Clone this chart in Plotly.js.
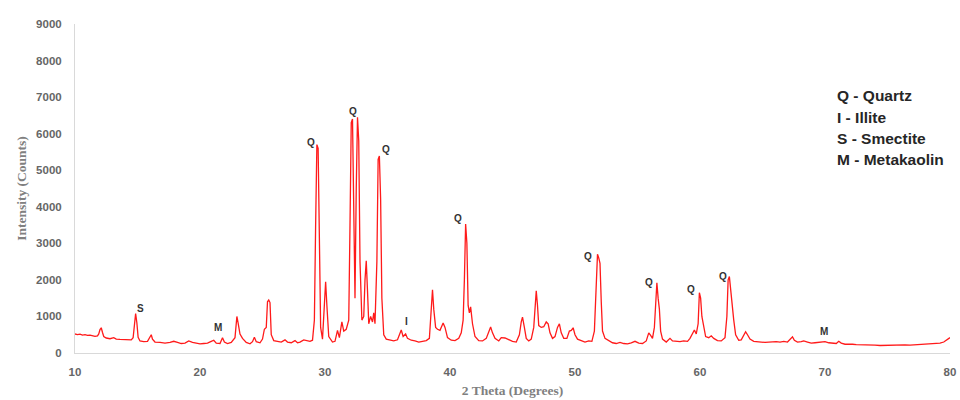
<!DOCTYPE html>
<html>
<head>
<meta charset="utf-8">
<script src="https://cdn.plot.ly/plotly-3.0.1.min.js"></script>
<style>
  html, body { margin: 0; padding: 0; background: #ffffff; }
  #chart { width: 960px; height: 400px; }
</style>
</head>
<body>
<div id="chart"></div>
<script>
// XRD scan: diffraction angle 2θ (degrees) and measured intensity (counts)
const twoTheta = [
  10.0, 10.2, 10.4, 10.6, 10.8, 11.0, 11.2, 11.4, 11.6, 11.8, 11.9, 12.0, 12.1, 12.2, 12.3, 12.5, 12.8, 13.1, 13.3, 13.6, 13.9, 14.2, 14.5,
  14.65, 14.75, 14.85, 14.95, 15.05, 15.2, 15.5, 15.8, 16.0, 16.1, 16.2, 16.4, 16.8, 17.2, 17.6, 17.9, 18.2, 18.5, 18.8, 19.1, 19.4, 19.7,
  20.0, 20.3, 20.6, 20.9, 21.1, 21.3, 21.6, 21.8, 21.95, 22.2, 22.5, 22.8, 22.95, 23.05, 23.2, 23.4, 23.7, 24.0, 24.2, 24.35, 24.5, 24.8,
  25.0, 25.15, 25.3, 25.4, 25.5, 25.6, 25.7, 25.9, 26.2, 26.5, 26.8, 27.0, 27.3, 27.6, 27.8, 28.0, 28.3, 28.6, 28.8, 29.0,
  29.15, 29.25, 29.35, 29.45, 29.55, 29.65, 29.8, 29.95, 30.05, 30.15, 30.3, 30.6, 30.8, 31.0, 31.15, 31.35, 31.5, 31.7, 31.9,
  32.0, 32.1, 32.2, 32.3, 32.4, 32.5, 32.6, 32.7, 32.8, 32.95, 33.1, 33.2, 33.3, 33.4, 33.5, 33.65, 33.8, 33.9, 34.0,
  34.15, 34.25, 34.35, 34.45, 34.55, 34.7, 34.9, 35.2, 35.5, 35.8, 36.0, 36.1, 36.25, 36.45, 36.6, 36.9, 37.2, 37.5, 37.8, 38.1,
  38.35, 38.5, 38.6, 38.7, 38.85, 39.0, 39.2, 39.45, 39.6, 39.8, 40.1, 40.4, 40.7, 40.9, 41.05, 41.15, 41.25, 41.35, 41.45, 41.55, 41.65, 41.8,
  42.0, 42.3, 42.6, 42.9, 43.1, 43.25, 43.4, 43.6, 43.9, 44.1, 44.4, 44.7, 45.0, 45.3, 45.55, 45.7, 45.8, 45.95, 46.1, 46.3, 46.5,
  46.7, 46.8, 46.9, 47.0, 47.1, 47.3, 47.5, 47.7, 47.85, 48.0, 48.2, 48.4, 48.6, 48.75, 48.9, 49.1, 49.35, 49.55, 49.7, 49.85, 50.0,
  50.2, 50.5, 50.8, 51.1, 51.35, 51.55, 51.7, 51.8, 51.9, 52.0, 52.1, 52.2, 52.4, 52.7, 53.0, 53.3, 53.6, 53.9, 54.2, 54.5, 54.8, 55.1,
  55.4, 55.7, 55.9, 56.05, 56.2, 56.35, 56.45, 56.55, 56.65, 56.75, 56.85, 57.0, 57.3, 57.6, 57.8, 58.1, 58.4, 58.7, 59.0, 59.2, 59.4,
  59.55, 59.7, 59.85, 59.95, 60.05, 60.15, 60.3, 60.45, 60.7, 60.9, 61.1, 61.4, 61.7, 62.0, 62.15, 62.25, 62.35, 62.45, 62.55, 62.7,
  62.85, 63.1, 63.3, 63.5, 63.65, 63.8, 64.0, 64.3, 64.6, 64.9, 65.2, 65.5, 65.8, 66.1, 66.4, 66.7, 67.0, 67.25, 67.4, 67.55, 67.8,
  68.1, 68.3, 68.6, 68.9, 69.2, 69.5, 69.8, 70.0, 70.3, 70.6, 70.9, 71.1, 71.3, 71.6, 71.9, 72.2, 72.5, 72.8, 73.2, 73.6, 74.0, 74.4,
  74.8, 75.2, 75.6, 76.0, 76.4, 76.8, 77.2, 77.6, 78.0, 78.4, 78.8, 79.2, 79.5, 79.8, 80.0
];
const counts = [
  520, 505, 515, 490, 500, 480, 490, 470, 455, 470, 520, 640, 690, 560, 450, 410, 390, 420, 380, 370, 360, 350, 360,
  420, 800, 1080, 820, 430, 330, 310, 320, 420, 500, 380, 300, 290, 270, 290, 320, 290, 260, 270, 330, 290, 260,
  250, 260, 270, 320, 350, 270, 260, 420, 300, 260, 290, 420, 1000, 820, 520, 400, 290, 250, 310, 430, 310, 280,
  380, 650, 700, 1400, 1450, 1380, 500, 340, 320, 300, 360, 300, 280, 340, 280, 300, 360, 340, 320, 350,
  900, 3500, 5700, 5600, 3000, 700, 380, 1200, 1950, 1300, 450, 300, 320, 620, 420, 850, 600, 650, 900,
  3500, 6300, 6400, 4000, 1500, 4500, 6450, 5800, 2500, 900, 1000, 2000, 2520, 1700, 800, 1000, 850, 1100, 800,
  2500, 5300, 5390, 4200, 1500, 500, 380, 350, 330, 360, 560, 630, 450, 520, 400, 350, 330, 300, 320, 340,
  400, 1200, 1730, 1200, 700, 650, 620, 820, 700, 420, 350, 340, 400, 550, 900, 2000, 3530, 3000, 1300, 1100, 1260, 800,
  450, 340, 330, 400, 600, 710, 550, 400, 330, 420, 410, 360, 320, 300, 500, 850, 980, 700, 400, 330, 380,
  700, 1400, 1700, 1300, 750, 700, 720, 850, 800, 550, 400, 450, 700, 800, 550, 400, 400, 600, 620, 690, 500,
  380, 330, 300, 330, 320, 600, 1800, 2700, 2600, 2450, 1400, 600, 400, 330, 280, 260, 290, 260, 250, 280, 320, 270,
  260, 330, 550, 480, 400, 700, 1500, 1920, 1500, 1200, 600, 380, 300, 400, 330, 320, 310, 330, 320, 400, 550,
  630, 520, 800, 1650, 1500, 1000, 700, 450, 420, 470, 400, 340, 330, 420, 1000, 2000, 2090, 1700, 1500, 900,
  500, 350, 360, 500, 580, 500, 380, 320, 300, 300, 290, 300, 290, 310, 300, 320, 300, 380, 440, 350, 300,
  310, 330, 300, 270, 280, 290, 300, 310, 280, 270, 260, 320, 270, 240, 250, 240, 230, 230, 220, 210, 215, 205,
  210, 205, 210, 215, 220, 215, 225, 230, 240, 245, 255, 270, 300, 360, 420
];

// Phase markers placed above their reflections
const markerText  = ["S", "M", "Q", "Q", "Q", "I", "Q", "Q", "Q", "Q", "Q", "M"];
const markerTheta = [15.2, 21.4, 28.9, 32.2, 34.9, 36.5, 40.6, 51.0, 55.9, 59.3, 61.8, 69.9];
const markerCount = [1230, 710, 5750, 6600, 5580, 875, 3690, 2650, 1940, 1750, 2100, 575];

// Key to the phase abbreviations
const keyLines = ["Q - Quartz", "I - Illite", "S - Smectite", "M - Metakaolin"];

const yTicks = [0, 1000, 2000, 3000, 4000, 5000, 6000, 7000, 8000, 9000];
const xTicks = [10, 20, 30, 40, 50, 60, 70, 80];

const trace = {
  x: twoTheta,
  y: counts,
  type: "scatter",
  mode: "lines",
  line: { color: "#ff1a1a", width: 1.3, shape: "linear" },
  hoverinfo: "x+y",
  showlegend: false
};

const annotations = [];
markerText.forEach((t, i) => {
  annotations.push({
    x: markerTheta[i], y: markerCount[i], xref: "x", yref: "y",
    text: t, showarrow: false,
    font: { family: "Liberation Sans, Arial, sans-serif", size: 10, color: "#333333", weight: "bold" }
  });
});
const keyY = [0.784, 0.717, 0.653, 0.587];
keyLines.forEach((t, i) => {
  annotations.push({
    x: 0.8686, y: keyY[i], xref: "paper", yref: "paper",
    xanchor: "left", yanchor: "middle",
    text: t, showarrow: false,
    font: { family: "Liberation Sans, Arial, sans-serif", size: 15.5, color: "#262626", weight: "bold" }
  });
});

const tickFont = { family: "Liberation Sans, Arial, sans-serif", size: 11.5, color: "#666666", weight: "bold" };
const titleFont = { family: "Liberation Serif, Times New Roman, serif", size: 13.5, color: "#808080", weight: "bold" };

const layout = {
  width: 960,
  height: 400,
  margin: { l: 75, r: 10, t: 24, b: 47 },
  paper_bgcolor: "#ffffff",
  plot_bgcolor: "#ffffff",
  xaxis: {
    range: [10, 80],
    tickvals: xTicks,
    ticktext: xTicks.map(String),
    showgrid: false,
    zeroline: false,
    showline: true,
    linecolor: "#d9d9d9",
    linewidth: 1,
    ticks: "",
    ticklabelstandoff: 8,
    tickfont: tickFont,
    title: { text: "2 Theta (Degrees)", font: titleFont, standoff: 8 }
  },
  yaxis: {
    range: [0, 9000],
    tickvals: yTicks,
    ticktext: yTicks.map(String),
    showgrid: false,
    zeroline: false,
    showline: true,
    linecolor: "#d9d9d9",
    linewidth: 1,
    ticks: "",
    ticklabelstandoff: 10,
    tickfont: tickFont,
    title: { text: "Intensity (Counts)", font: titleFont, standoff: 6 }
  },
  annotations: annotations
};

Plotly.newPlot("chart", [trace], layout, { displayModeBar: false, staticPlot: true });
</script>
</body>
</html>
